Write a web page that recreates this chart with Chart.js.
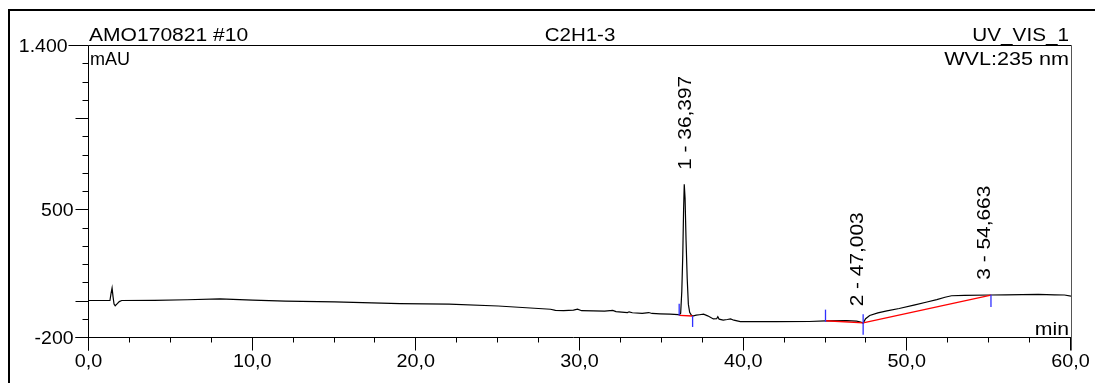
<!DOCTYPE html>
<html><head><meta charset="utf-8">
<script src="https://cdn.jsdelivr.net/npm/chart.js@4.4.1/dist/chart.umd.min.js"></script>
<style>html,body{margin:0;padding:0;background:#fff;}#wrap{width:1095px;height:383px;position:relative;}</style>
</head><body><div id="wrap"><canvas id="c" width="1095" height="383"></canvas></div>
<script>
// ---- data ----
const timeMin = [0,1.28,1.35,1.41,1.47,1.53,1.6,1.7,1.85,2.0,4,6,8,10,12,15,19,22,25,28.2,28.5,29,29.6,29.85,30.1,30.8,31.5,32.0,32.2,32.9,33.0,33.2,33.8,34.2,34.4,34.9,35.5,36.0,36.06,36.15,36.22,36.28,36.33,36.37,36.42,36.48,36.55,36.62,36.7,36.8,36.88,37.1,37.3,37.55,37.8,38.15,38.35,38.42,38.5,38.75,39.0,39.2,39.4,39.8,40.5,42,44,45,46.3,46.9,47.15,47.3,47.45,47.7,48.2,48.75,49.5,50.4,51.2,51.8,52.3,52.7,53.5,55.1,56,57,58,59,59.6,60];
const signalMAU = [0,0,40,68,20,-20,-29,-20,-6,0,1,4,9,2,-3,-8,-17,-20,-30,-48,-54,-56,-53,-47,-56,-57,-58,-54,-61,-66,-62,-67,-70,-66,-71,-73,-75,-77,-80,-70,50,250,500,637,560,330,120,-20,-65,-80,-85,-80,-78,-75,-84,-101,-100,-89,-102,-107,-104,-101,-108,-116,-116,-116,-115,-112,-110,-113,-118,-124,-100,-82,-68,-57,-44,-25,-8,5,18,26,28,30,31,32,34,31,30,24];
const peakNames = ['1 - 36,397','2 - 47,003','3 - 54,663'];
const peakTimes = [36.397,46.9,54.663];
const peakLabelBase = [716,-32,114];
const baseStartT = [36.06,45.0,47.3];
const baseStartV = [-82,-111,-123];
const baseEndT = [36.88,47.3,55.11];
const baseEndV = [-85,-123,29];
const markT = [36.06,36.88,45.0,47.3,55.11];
const markLo = [-82,-145,-117,-187,-36];
const markHi = [-18,-85,-50,-75,31];
const xTickLabels = ['0,0','10,0','20,0','30,0','40,0','50,0','60,0'];
const xTickValues = [0,10,20,30,40,50,60];
const yTickLabels = ['1.400','500','-200'];
const yTickValues = [1400,500,-200];
const yMajorTicks = [1400,1000,500,0,-200];
const headerLeft = 'AMO170821 #10', headerCenter = 'C2H1-3', headerRight = 'UV_VIS_1';
const yUnit = 'mAU', wvl = 'WVL:235 nm', xUnit = 'min';

const FONT = '"Liberation Sans", Arial, sans-serif';
const datasets = [];
markT.forEach((t,i)=>datasets.push({data:[{x:t,y:markLo[i]},{x:t,y:markHi[i]}],borderColor:'#3030ff',borderWidth:1.3,order:0}));
baseStartT.forEach((t,i)=>datasets.push({data:[{x:t,y:baseStartV[i]},{x:baseEndT[i],y:baseEndV[i]}],borderColor:'#ff0000',borderWidth:1.3,order:1}));
datasets.push({data:timeMin.map((t,i)=>({x:t,y:signalMAU[i]})),borderColor:'#000',borderWidth:1.2,order:2});

function sText(ctx, s, x, y, align, sx){
  const w = ctx.measureText(s).width*sx;
  let x0 = x;
  if(align==='center') x0 = x - w/2; else if(align==='right') x0 = x - w;
  ctx.save();
  ctx.translate(x0,y); ctx.scale(sx,1);
  ctx.textAlign='left';
  ctx.fillText(s,0,0);
  ctx.restore();
}

const axesPlugin = {
  id:'axes',
  beforeDatasetsDraw(chart){
    const {ctx, chartArea:a, scales:{x,y}} = chart;
    ctx.save();
    ctx.fillStyle='#000';
    ctx.fillRect(8,9,2,374);
    ctx.fillRect(8,9,1087,2);
    ctx.strokeStyle='#000'; ctx.lineWidth=1;
    const L=a.left-0.5, R=a.right+0.5, T=Math.round(y.getPixelForValue(1400))+0.5, B=Math.round(y.getPixelForValue(-200))+0.5;
    ctx.beginPath();
    ctx.moveTo(L,T); ctx.lineTo(R,T);
    ctx.moveTo(L,T); ctx.lineTo(L,B+13);
    ctx.moveTo(L-13,B); ctx.lineTo(R,B);
    ctx.stroke();
    ctx.strokeStyle='#555';
    ctx.beginPath(); ctx.moveTo(R,T); ctx.lineTo(R,B+13); ctx.stroke();
    ctx.strokeStyle='#000';
    ctx.beginPath();
    for(let v=-200; v<=1400; v+=100){
      const py=Math.round(y.getPixelForValue(v))+0.5;
      const len = v===1400?20:(yMajorTicks.includes(v)?13:6);
      ctx.moveTo(L-len,py); ctx.lineTo(L,py);
    }
    for(let t=0; t<=60; t+=2.5){
      const px=Math.round(x.getPixelForValue(t))-0.5;
      const len = (t%10===0)?13:5;
      ctx.moveTo(px,B); ctx.lineTo(px,B+len);
    }
    ctx.stroke();
    ctx.fillStyle='#000';
    ctx.font='18px '+FONT;
    ctx.textBaseline='alphabetic';
    yTickValues.forEach((v,i)=>{ sText(ctx, yTickLabels[i], v===1400?L-21:L-15, y.getPixelForValue(v)+6.5, 'right', 1.08); });
    xTickValues.forEach((t,i)=>{ sText(ctx, xTickLabels[i], x.getPixelForValue(t)-0.5, 367, 'center', 1.1); });
    ctx.restore();
  },
  afterDatasetsDraw(chart){
    const {ctx, chartArea:a, scales:{x,y}} = chart;
    ctx.save();
    ctx.fillStyle='#000';
    ctx.font='18px '+FONT;
    ctx.textBaseline='alphabetic';
    sText(ctx, headerLeft, a.left, 41, 'left', 1.17);
    sText(ctx, headerCenter, (a.left+a.right)/2, 41, 'center', 1.14);
    sText(ctx, headerRight, a.right-2, 41, 'right', 1.15);
    sText(ctx, wvl, a.right-2, 65, 'right', 1.2);
    sText(ctx, xUnit, a.right-2, 334.5, 'right', 1.18);
    sText(ctx, yUnit, a.left+1, 65, 'left', 1.0);
    peakNames.forEach((n,i)=>{
      ctx.save();
      ctx.translate(x.getPixelForValue(peakTimes[i]), y.getPixelForValue(peakLabelBase[i]));
      ctx.rotate(-Math.PI/2);
      ctx.textBaseline='middle';
      sText(ctx, n, 0, 1, 'left', 1.16);
      ctx.restore();
    });
    ctx.restore();
  }
};

new Chart(document.getElementById('c'),{
  type:'scatter',
  data:{datasets},
  options:{
    responsive:false, animation:false, devicePixelRatio:1,
    layout:{padding:{left:89,right:24,top:45,bottom:46}},
    elements:{point:{radius:0,hoverRadius:0},line:{tension:0}},
    datasets:{scatter:{showLine:true}},
    plugins:{legend:{display:false},tooltip:{enabled:false}},
    scales:{
      x:{type:'linear',min:0,max:60,display:false},
      y:{type:'linear',min:-200,max:1400,display:false}
    }
  },
  plugins:[axesPlugin]
});
</script>
</body></html>
